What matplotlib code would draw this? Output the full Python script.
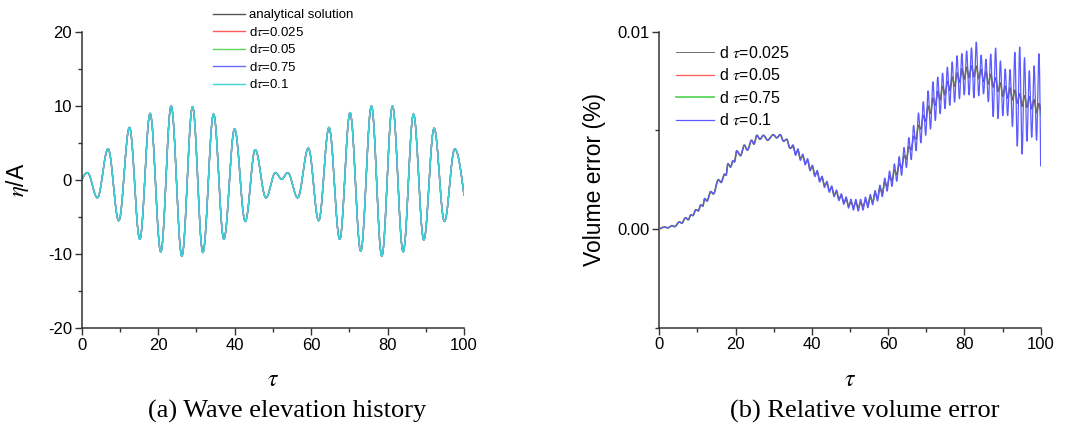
import numpy as np
import matplotlib
matplotlib.use("Agg")
import matplotlib.pyplot as plt
from matplotlib.ticker import MultipleLocator, FixedLocator, FormatStrFormatter

plt.rcParams['font.family'] = ['Liberation Sans', 'DejaVu Sans']
plt.rcParams['mathtext.fontset'] = 'stix'
plt.rcParams['axes.unicode_minus'] = False

# ---- (a) wave elevation: extrema (tau, eta/A)
wave_t = [0.0, 1.5, 4.1, 6.9, 9.7, 12.5, 15.2, 17.9, 20.7, 23.4, 26.2, 29.0, 31.7,
          34.5, 37.2, 40.0, 42.8, 45.4, 48.2, 50.7, 52.3, 53.9, 56.5, 59.3, 62.0,
          64.7, 67.5, 70.2, 73.0, 75.8, 78.5, 81.3, 84.1, 86.8, 89.5, 92.2, 94.9,
          97.6, 100.0]
wave_v = [0.0, 1.0, -2.4, 4.2, -5.5, 7.1, -8.0, 9.0, -9.7, 10.0, -10.3, 9.9, -9.8,
          8.9, -8.0, 6.9, -5.6, 4.1, -2.4, 1.0, 0.1, 1.0, -2.4, 4.3, -5.5,
          7.1, -8.0, 9.1, -9.6, 10.0, -10.3, 10.0, -9.7, 8.9, -8.1, 7.0, -5.6,
          4.2, -2.0]
wave_labels = ['analytical solution', r'd$\tau$=0.025', r'd$\tau$=0.05',
               r'd$\tau$=0.75', r'd$\tau$=0.1']
wave_colors = ['#555555', '#ff5a5a', '#5ad85a', '#6a6aff', '#3fd6d6']

# ---- (b) volume error, units of 1e-3 %
# early part (all step sizes overlap)
early_t = [0.0, 1.5, 2.2, 3.3, 4.0, 5.3, 5.9, 6.9, 7.6, 8.3, 8.8, 9.6, 10.2, 10.9,
           11.4, 11.9, 12.5, 13.5, 14.2, 15.5, 16.2, 17.1, 17.5, 18.0, 18.7, 19.3,
           19.7, 20.3, 21.3, 22.3, 23.1, 24.2, 24.8, 25.6, 26.4, 27.3, 28.4, 29.9,
           30.8, 31.7, 32.6, 33.4, 34.3]
early_v = [0.00, 0.10, 0.06, 0.17, 0.12, 0.36, 0.30, 0.57, 0.47, 0.72, 0.68, 0.98,
           0.92, 1.22, 1.16, 1.54, 1.42, 1.90, 1.78, 2.50, 2.36, 2.78, 2.72, 3.31,
           3.14, 3.45, 3.40, 3.96, 3.72, 4.25, 4.00, 4.50, 4.30, 4.75, 4.55, 4.75,
           4.50, 4.78, 4.62, 4.78, 4.45, 4.55, 4.09]
# later part: oscillation peaks and the troughs between them
peak_t = [35.10, 36.36, 37.63, 38.89, 40.15, 41.42, 42.68, 43.95, 45.21, 46.47,
          47.74, 49.00, 50.26, 51.53, 52.79, 54.06, 55.32, 56.58, 57.85, 59.11,
          60.37, 61.64, 62.90, 64.17, 65.43, 66.69, 67.96, 69.22, 70.48, 71.75,
          73.01, 74.28, 75.54, 76.80, 78.07, 79.33, 80.59, 81.86, 83.12, 84.39,
          85.65, 86.91, 88.18, 89.44, 90.70, 91.97, 93.23, 94.50, 95.76, 97.02,
          98.29, 99.55]
blue_peak = [4.27, 4.07, 3.80, 3.57, 3.24, 2.97, 2.68, 2.42, 2.19, 1.98,
             1.79, 1.63, 1.51, 1.50, 1.51, 1.62, 1.75, 1.95, 2.22, 2.58,
             2.94, 3.30, 3.67, 4.13, 4.63, 5.25, 5.88, 6.45, 7.00, 7.46,
             7.70, 7.90, 8.20, 8.47, 8.78, 8.89, 9.02, 9.18, 9.47, 8.81,
             8.60, 8.86, 9.17, 8.52, 8.11, 8.08, 8.95, 9.22, 8.68, 8.02,
             8.27, 8.88]
blue_trough = [3.73, 3.48, 3.25, 2.95, 2.66, 2.38, 2.11, 1.86, 1.64, 1.44,
               1.25, 1.06, 0.96, 0.91, 0.96, 1.08, 1.23, 1.42, 1.64, 1.92,
               2.16, 2.42, 2.72, 3.12, 3.52, 3.97, 4.37, 4.75, 5.07, 5.50,
               5.85, 6.10, 6.27, 6.43, 6.60, 6.80, 6.80, 6.65, 6.75, 6.85,
               6.45, 5.70, 5.60, 5.75, 5.75, 5.20, 4.20, 3.80, 4.45, 4.65,
               4.50]
blue_end = 3.2
fine_peak = [4.17, 3.97, 3.70, 3.47, 3.14, 2.87, 2.58, 2.32, 2.09, 1.88,
             1.69, 1.51, 1.37, 1.34, 1.33, 1.44, 1.62, 1.82, 2.07, 2.38,
             2.69, 3.00, 3.32, 3.73, 4.18, 4.70, 5.25, 5.75, 6.23, 6.64,
             6.98, 7.23, 7.48, 7.70, 7.91, 8.12, 8.20, 8.26, 8.25, 8.09,
             7.98, 7.84, 7.65, 7.40, 7.24, 7.16, 7.03, 6.85, 6.76, 6.70,
             6.55, 6.36]
fine_trough = [3.83, 3.58, 3.35, 3.05, 2.76, 2.48, 2.21, 1.96, 1.74, 1.54,
               1.36, 1.19, 1.11, 1.08, 1.14, 1.24, 1.37, 1.57, 1.83, 2.14,
               2.44, 2.75, 3.10, 3.55, 4.02, 4.57, 5.07, 5.47, 5.87, 6.27,
               6.54, 6.80, 7.02, 7.25, 7.45, 7.60, 7.67, 7.72, 7.62, 7.47,
               7.35, 7.20, 6.97, 6.72, 6.64, 6.55, 6.38, 6.22, 6.17, 6.10,
               5.90]
fine_end = {'d025': 6.0, 'd05': 6.03, 'd075': 5.8}
err_labels = [r'd $\tau$=0.025', r'd $\tau$=0.05', r'd $\tau$=0.75', r'd $\tau$=0.1']
err_colors = ['#555555', '#ff5a5a', '#5ad85a', '#5b5bff']


def smooth(tp, vp, n=30):
    # joins the read extrema with cosine arcs
    tt, vv = [], []
    last = len(tp) - 2
    for i in range(len(tp) - 1):
        s = np.linspace(0, 1, n, endpoint=False)
        if i == 0:
            w = np.sin(np.pi * s / 2)
        elif i == last:
            w = 1 - np.cos(np.pi * s / 2)
        else:
            w = (1 - np.cos(np.pi * s)) / 2
        tt.append(tp[i] + (tp[i + 1] - tp[i]) * s)
        vv.append(vp[i] + (vp[i + 1] - vp[i]) * w)
    tt.append([tp[-1]])
    vv.append([vp[-1]])
    return np.concatenate(tt), np.concatenate(vv)


def series(peaks, troughs, end):
    tp = list(early_t)
    vp = list(early_v)
    for k in range(len(peak_t)):
        tp.append(peak_t[k])
        vp.append(peaks[k])
        if k < len(troughs):
            tp.append((peak_t[k] + peak_t[k + 1]) / 2)
            vp.append(troughs[k])
    tp.append(100.0)
    vp.append(end)
    t, v = smooth(tp, vp)
    return t, v * 1e-3


fig = plt.figure(figsize=(10.82, 4.3), dpi=100)
ax1 = fig.add_axes([0.0755, 0.2372, 0.3533, 0.6884])
ax2 = fig.add_axes([0.6093, 0.2379, 0.3525, 0.6884])

for ax in (ax1, ax2):
    for sp in ('top', 'right'):
        ax.spines[sp].set_visible(False)
    for sp in ('left', 'bottom'):
        ax.spines[sp].set_linewidth(1.1)
        ax.spines[sp].set_color('#333333')
    ax.tick_params(which='major', direction='out', length=5, width=1.0,
                   color='#333333', labelsize=12, pad=2)
    ax.tick_params(which='minor', direction='out', length=3, width=1.0,
                   color='#333333')
    ax.set_xlim(0, 100)
    ax.xaxis.set_major_locator(MultipleLocator(20))
    ax.xaxis.set_minor_locator(MultipleLocator(10))
    ax.set_xlabel(r'$\tau$', fontsize=17, labelpad=12)

# (a)
wt, wv = smooth(wave_t, wave_v)
for lab, col in zip(wave_labels, wave_colors):
    ax1.plot(wt, wv, color=col, lw=1.0, label=lab)
ax1.set_ylim(-20, 20)
ax1.yaxis.set_major_locator(MultipleLocator(10))
ax1.yaxis.set_minor_locator(MultipleLocator(5))
ax1.set_ylabel(r'$\eta$/A', fontsize=16.5, labelpad=12)
ax1.legend(loc='upper left', bbox_to_anchor=(213 / 1082, 1 - 9 / 430),
           bbox_transform=fig.transFigure, frameon=False, fontsize=9.5,
           handlelength=2.4, handletextpad=0.3, labelspacing=0.34,
           borderpad=0, borderaxespad=0)

# (b)
tb, vb = series(blue_peak, blue_trough, blue_end)
t1, v1 = series(fine_peak, fine_trough, fine_end['d025'])
t2, v2 = series(fine_peak, fine_trough, fine_end['d05'])
t3, v3 = series(fine_peak, fine_trough, fine_end['d075'])
l3, = ax2.plot(t3, v3, color=err_colors[2], lw=1.3, zorder=2)
l2, = ax2.plot(t2, v2, color=err_colors[1], lw=0.9, zorder=3)
l1, = ax2.plot(t1, v1, color=err_colors[0], lw=0.6, zorder=4)
lb, = ax2.plot(tb, vb, color=err_colors[3], lw=0.9, zorder=5)
ax2.set_ylim(-0.005, 0.01)
ax2.yaxis.set_major_locator(FixedLocator([0.0, 0.01]))
ax2.yaxis.set_minor_locator(FixedLocator([-0.005, 0.005]))
ax2.yaxis.set_major_formatter(FormatStrFormatter('%.2f'))
ax2.set_ylabel('Volume error (%)', fontsize=16.5, labelpad=8)
ax2.legend([l1, l2, l3, lb], err_labels, loc='upper left',
           bbox_to_anchor=(676 / 1082, 1 - 45 / 430),
           bbox_transform=fig.transFigure, frameon=False, fontsize=11.5,
           handlelength=2.4, handletextpad=0.3, labelspacing=0.4,
           borderpad=0, borderaxespad=0)

fig.text(287 / 1082, 1 - 411 / 430, '(a) Wave elevation history',
         family='Liberation Serif', fontsize=19, ha='center', va='center')
fig.text(865 / 1082, 1 - 411 / 430, '(b) Relative volume error',
         family='Liberation Serif', fontsize=19, ha='center', va='center')

fig.savefig('out.png', dpi=100)
